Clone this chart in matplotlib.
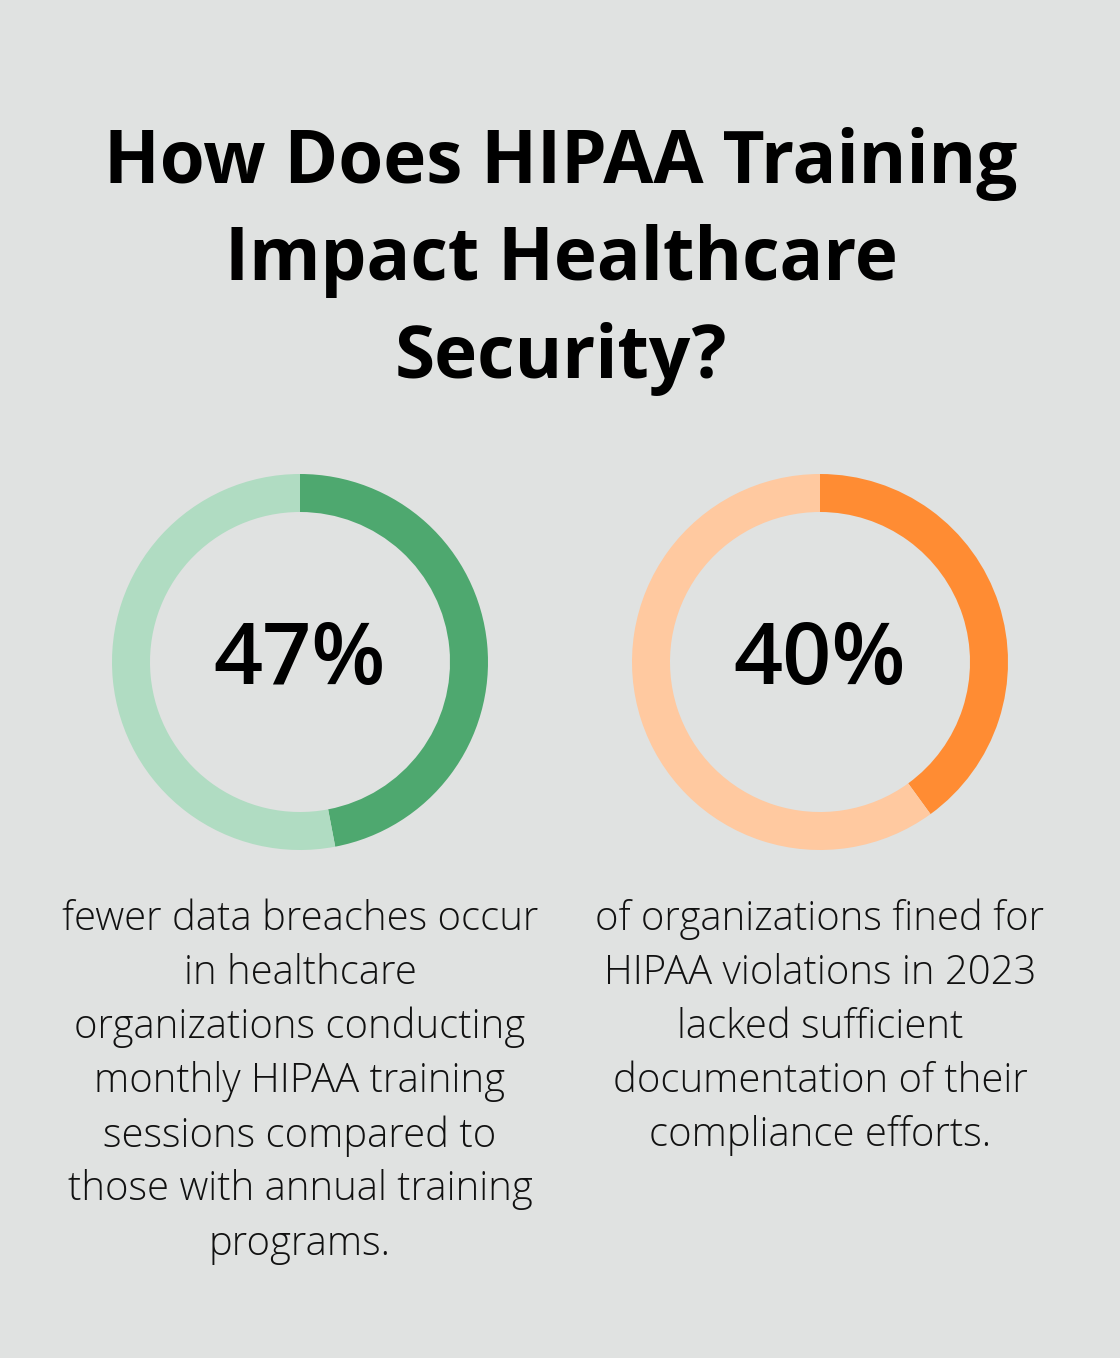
import matplotlib.pyplot as plt

BG = "#E0E2E1"

TITLE_LINES = ["How Does HIPAA Training", "Impact Healthcare", "Security?"]

VALUES = [47, 40]
LABELS = ["47%", "40%"]
COLORS = [("#4EA86F", "#B0DCC2"), ("#FF8C33", "#FFC9A0")]
CAPTIONS = [
    ["fewer data breaches occur", "in healthcare", "organizations conducting",
     "monthly HIPAA training", "sessions compared to",
     "those with annual training", "programs."],
    ["of organizations fined for", "HIPAA violations in 2023",
     "lacked sufficient", "documentation of their", "compliance efforts."],
]

W, H = 1120, 1358
CENTERS_X = [300, 820]
CENTER_Y = 662
R_OUT = 188
RING = 38

plt.rcParams["font.family"] = ["Open Sans", "DejaVu Sans"]

fig = plt.figure(figsize=(W / 100, H / 100), dpi=100)
fig.patch.set_facecolor(BG)

# title
for i, line in enumerate(TITLE_LINES):
    fig.text(561 / W, 1 - (164 + 97.5 * i) / H, line, ha="center", va="center",
             fontsize=52.4, fontweight="bold", color="#000000")

for cx, val, lab, (dark, light), cap in zip(CENTERS_X, VALUES, LABELS, COLORS, CAPTIONS):
    ax = fig.add_axes([(cx - R_OUT) / W, (H - CENTER_Y - R_OUT) / H,
                       2 * R_OUT / W, 2 * R_OUT / H])
    ax.pie([val, 100 - val], colors=[dark, light], startangle=90,
           counterclock=False, radius=1,
           wedgeprops=dict(width=RING / R_OUT, linewidth=0))
    ax.set_xlim(-1, 1)
    ax.set_ylim(-1, 1)
    ax.set_aspect("auto")
    ax.axis("off")
    ax.text(0, 0, lab, ha="center", va="center", fontsize=62,
            fontweight="semibold", color="#000000")

    for j, line in enumerate(cap):
        fig.text(cx / W, 1 - (919 + 54.2 * j) / H, line, ha="center", va="center",
                 fontsize=28.8, fontweight="light", color="#111111")

fig.savefig("out.png", dpi=100, facecolor=BG)
